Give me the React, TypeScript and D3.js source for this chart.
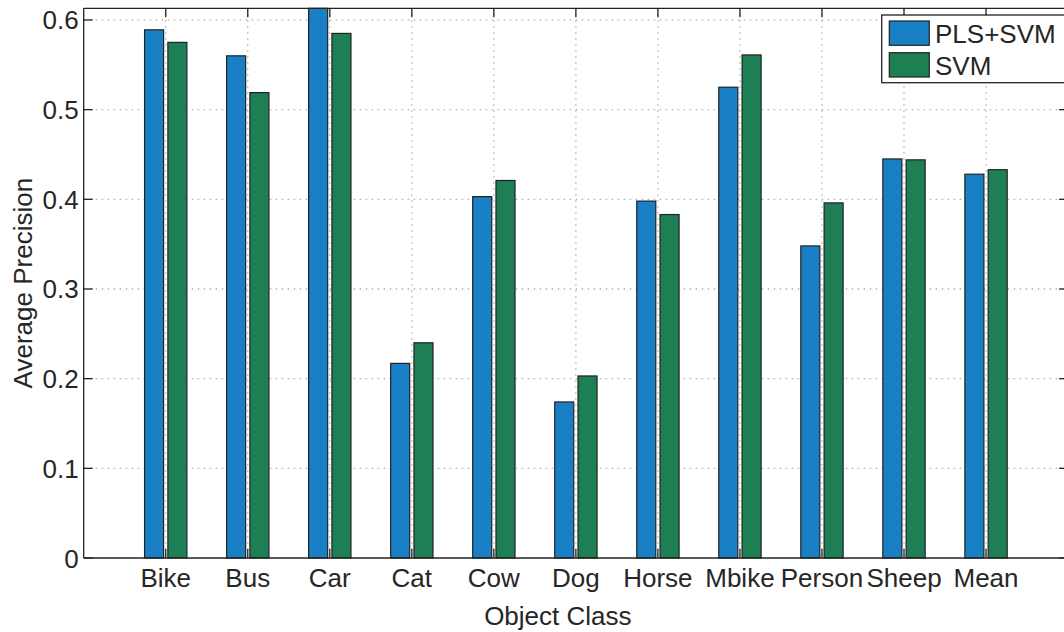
import React from "react";
import * as d3 from "d3";

// Average precision per object class for the two classifiers
const categories = ["Bike", "Bus", "Car", "Cat", "Cow", "Dog", "Horse", "Mbike", "Person", "Sheep", "Mean"];
const plsSvm = [0.589, 0.560, 0.613, 0.217, 0.403, 0.174, 0.398, 0.525, 0.348, 0.445, 0.428];
const svm = [0.575, 0.519, 0.585, 0.240, 0.421, 0.203, 0.383, 0.561, 0.396, 0.444, 0.433];
const yTicks = [0, 0.1, 0.2, 0.3, 0.4, 0.5, 0.6];
const seriesNames = ["PLS+SVM", "SVM"];

const W = 1064;
const H = 632;
const FONT = "'Liberation Sans', Arial, Helvetica, sans-serif";
const TEXT = "#262626";
const AXIS = "#222";
const COLORS = ["#1a80c5", "#1e7f55"];

export default function App() {
  const left = 83.7;
  const right = left + 12 * 82.03;
  const top = 8.3;
  const bottom = 558;

  const x = d3.scaleLinear().domain([0, categories.length + 1]).range([left, right]);
  const y = d3.scaleLinear().domain([0, d3.max(plsSvm.concat(svm)) as number]).range([bottom, top]);

  const barW = 0.232;
  const offset = 0.142;
  const series = [plsSvm, svm];
  const tickLen = 9;

  return (
    <svg
      width={W}
      height={H}
      viewBox={`0 0 ${W} ${H}`}
      style={{ position: "absolute", left: 0, top: 0, background: "#fff" }}
    >
      <rect x={0} y={0} width={W} height={H} fill="#fff" />

      {/* dotted grid */}
      <g stroke="#b0b0b0" strokeWidth={1.3} strokeDasharray="1.5,4.5">
        {yTicks.slice(1).map((t) => (
          <line key={"gy" + t} x1={left} x2={right} y1={y(t)} y2={y(t)} />
        ))}
        {categories.map((c, i) => (
          <line key={"gx" + c} x1={x(i + 1)} x2={x(i + 1)} y1={top} y2={bottom} />
        ))}
      </g>

      {/* bars */}
      {series.map((vals, s) => (
        <g key={"s" + s}>
          {vals.map((v, i) => {
            const cx = i + 1 + (s === 0 ? -offset : offset);
            const x0 = x(cx - barW / 2);
            const x1 = x(cx + barW / 2);
            return (
              <rect
                key={categories[i]}
                x={x0}
                y={y(v)}
                width={x1 - x0}
                height={bottom - y(v)}
                fill={COLORS[s]}
                stroke={AXIS}
                strokeWidth={1.2}
              />
            );
          })}
        </g>
      ))}

      {/* axes box */}
      <g stroke={AXIS} strokeWidth={1.3} fill="none">
        <line x1={left} x2={right} y1={bottom} y2={bottom} />
        <line x1={left} x2={right} y1={top} y2={top} />
        <line x1={left} x2={left} y1={top} y2={bottom} />
        <line x1={right} x2={right} y1={top} y2={bottom} />
        {yTicks.map((t) => (
          <g key={"yt" + t}>
            <line x1={left} x2={left + tickLen} y1={y(t)} y2={y(t)} />
            <line x1={right} x2={right - tickLen} y1={y(t)} y2={y(t)} />
          </g>
        ))}
        {categories.map((c, i) => (
          <g key={"xt" + c}>
            <line x1={x(i + 1)} x2={x(i + 1)} y1={bottom} y2={bottom - tickLen} />
            <line x1={x(i + 1)} x2={x(i + 1)} y1={top} y2={top + tickLen} />
          </g>
        ))}
      </g>

      {/* tick labels */}
      <g fontFamily={FONT} fontSize={26} fill={TEXT}>
        {yTicks.map((t) => (
          <text key={"yl" + t} x={left - 5} y={y(t) + 9.5} textAnchor="end">
            {d3.format("")(t)}
          </text>
        ))}
        {categories.map((c, i) => (
          <text key={"xl" + c} x={x(i + 1)} y={587} textAnchor="middle">
            {c}
          </text>
        ))}
        <text x={(left + 1064) / 2 - 16} y={625} textAnchor="middle">
          Object Class
        </text>
        <text
          transform={`translate(32, ${(top + bottom) / 2}) rotate(-90)`}
          textAnchor="middle"
        >
          Average Precision
        </text>
      </g>

      {/* legend */}
      <g fontFamily={FONT} fontSize={26} fill={TEXT}>
        <rect x={881.7} y={15} width={190} height={67.7} fill="#fff" stroke={AXIS} strokeWidth={1.3} />
        {seriesNames.map((name, s) => (
          <g key={name}>
            <rect
              x={889.3}
              y={21 + s * 31.7}
              width={40}
              height={24.3}
              fill={COLORS[s]}
              stroke={AXIS}
              strokeWidth={1.2}
            />
            <text x={935} y={43 + s * 32}>
              {name}
            </text>
          </g>
        ))}
      </g>
    </svg>
  );
}
